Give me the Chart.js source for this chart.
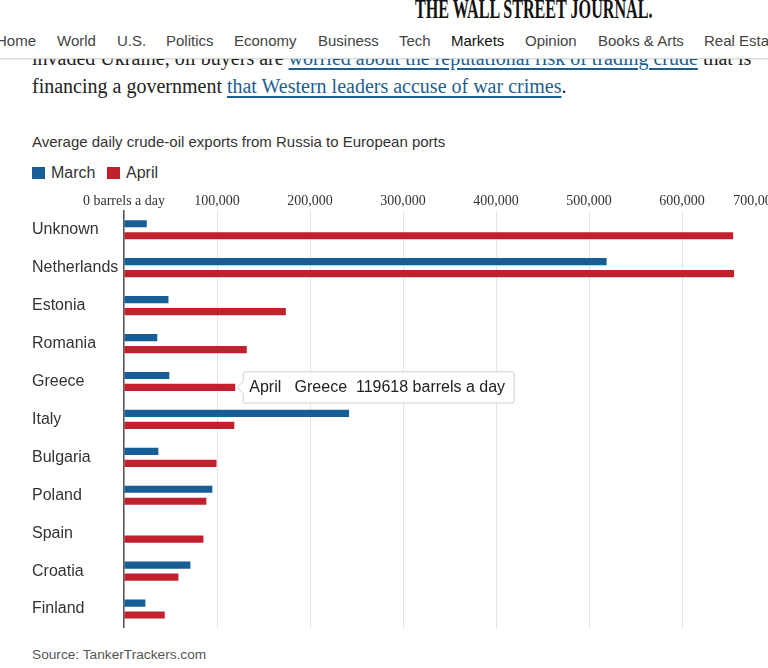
<!DOCTYPE html>
<html>
<head>
<meta charset="utf-8">
<script src="https://cdn.jsdelivr.net/npm/chart.js@4/dist/chart.umd.min.js"></script>
<style>
  body { margin: 0; width: 768px; height: 668px; overflow: hidden; background: #fff; position: relative; font-family: Arial, "Liberation Sans", sans-serif; }
  .nav { position: absolute; left: 0; top: 0; width: 768px; height: 58px; background: #fff; border-bottom: 1px solid #d8d8d8; box-shadow: 0 1px 2px rgba(0,0,0,0.08); z-index: 2; }
  .logo { position: absolute; left: 415px; top: -5px; font: bold 28px "Liberation Serif", serif; line-height: 28px; color: #111; white-space: nowrap; transform: scaleX(0.575); transform-origin: 0 0; }
  .nav span { position: absolute; top: 32px; font-size: 15px; line-height: 18px; color: #444; white-space: nowrap; }
  .nav span.on { color: #111; }
  .article { position: absolute; left: 32px; top: 44px; font: 20px "Liberation Serif", serif; line-height: 28px; color: #222; white-space: nowrap; }
  .article a { color: #1d5f8f; text-decoration: underline; text-underline-offset: 3px; }
  .title { position: absolute; left: 32px; top: 133px; font-size: 15px; line-height: 18px; color: #333; white-space: nowrap; }
  .legend { position: absolute; top: 163px; font-size: 16px; line-height: 19px; color: #333; }
  .legend i { position: absolute; top: 4px; width: 13px; height: 12px; }
  .legend b { position: absolute; top: 0; font-weight: normal; }
  .source { position: absolute; left: 32px; top: 647px; font-size: 13.7px; line-height: 16px; color: #555; white-space: nowrap; }
  #chart { position: absolute; left: 0; top: 192px; }
</style>
</head>
<body>
<div class="nav">
  <div class="logo">THE WALL STREET JOURNAL.</div>
  <span style="left:-4px">Home</span>
  <span style="left:57px">World</span>
  <span style="left:117px">U.S.</span>
  <span style="left:166px">Politics</span>
  <span style="left:234px">Economy</span>
  <span style="left:318px">Business</span>
  <span style="left:399px">Tech</span>
  <span class="on" style="left:451px">Markets</span>
  <span style="left:525px">Opinion</span>
  <span style="left:598px">Books &amp; Arts</span>
  <span style="left:704px">Real Estate</span>
</div>
<div class="article">
  invaded Ukraine, oil buyers are <a>worried about the reputational risk of trading crude</a> that is<br>
  financing a government <a>that Western leaders accuse of war crimes</a>.
</div>
<div class="title">Average daily crude-oil exports from Russia to European ports</div>
<div class="legend" id="legend"></div>
<canvas id="chart" width="775" height="436"></canvas>
<div class="source">Source: TankerTrackers.com</div>
<script>
const categories = ['Unknown', 'Netherlands', 'Estonia', 'Romania', 'Greece', 'Italy', 'Bulgaria', 'Poland', 'Spain', 'Croatia', 'Finland'];
const seriesNames = ['March', 'April'];
const seriesColors = ['#175d96', '#c1202d'];
const marchValues = [24500, 519000, 47800, 35800, 48700, 242000, 37000, 95000, 0, 71400, 23000];
const aprilValues = [655000, 656000, 174000, 132000, 119618, 118600, 99500, 88600, 85400, 58500, 43800];
const tickLabels = ['0 barrels a day', '100,000', '200,000', '300,000', '400,000', '500,000', '600,000', '700,000'];

// legend squares above the chart, built from the series names
const legendEl = document.getElementById('legend');
const legendLeft = [32, 107];
seriesNames.forEach((name, i) => {
    legendEl.innerHTML += '<i style="left:' + legendLeft[i] + 'px;background:' + seriesColors[i] + '"></i>' +
        '<b style="left:' + (legendLeft[i] + 19) + 'px">' + name + '</b>';
});

const ctx = document.getElementById('chart').getContext('2d');
const chart = new Chart(ctx, {
    type: 'bar',
    data: {
        labels: categories,
        datasets: [
            { label: seriesNames[0], data: marchValues, backgroundColor: seriesColors[0], hoverBackgroundColor: seriesColors[0] },
            { label: seriesNames[1], data: aprilValues, backgroundColor: seriesColors[1], hoverBackgroundColor: seriesColors[1] },
        ],
    },
    options: {
        indexAxis: 'y',
        responsive: false,
        animation: false,
        events: [],
        categoryPercentage: 0.632,
        barPercentage: 0.6,
        layout: { padding: { left: 32, right: 0, top: 0, bottom: 0 } },
        plugins: {
            legend: { display: false },
            tooltip: {
                enabled: true,
                xAlign: 'left',
                yAlign: 'center',
                backgroundColor: '#fff',
                borderColor: '#cfcfcf',
                borderWidth: 1,
                cornerRadius: 2,
                caretSize: 6,
                caretPadding: 2,
                displayColors: false,
                padding: { top: 6, bottom: 6, left: 6, right: 9 },
                bodyColor: '#222',
                bodyFont: { family: 'Arial, "Liberation Sans", sans-serif', size: 16 },
                callbacks: {
                    title: () => '',
                    label: (c) => c.dataset.label + '   ' + c.label + '  ' + c.raw + ' barrels a day',
                },
            },
        },
        scales: {
            x: {
                position: 'top',
                min: 0,
                max: 700000,
                border: { display: false },
                grid: { color: '#e4e4e4', drawTicks: false },
                ticks: {
                    stepSize: 100000,
                    autoSkip: false,
                    padding: 1,
                    color: '#333',
                    font: { family: '"Liberation Serif", serif', size: 14 },
                    maxRotation: 0,
                    // last label sits on the page edge, padded so it reads like the original
                    callback: (v, i) => i === tickLabels.length - 1 ? tickLabels[i] + '\u2003\u2003\u2002\u2009' : tickLabels[i],
                },
                afterFit: (scale) => { scale.paddingLeft = 0; scale.paddingRight = 0; },
            },
            y: {
                grid: { display: false },
                border: { display: true, color: '#555', width: 1.5 },
                ticks: {
                    crossAlign: 'far',
                    color: '#333',
                    font: { family: 'Arial, "Liberation Sans", sans-serif', size: 16 },
                },
                afterFit: (scale) => { scale.width = 92; scale.paddingTop = 0; scale.paddingBottom = 0; },
            },
        },
    },
});

// show the hover label on Greece / April as in the screenshot
chart.tooltip.setActiveElements([{ datasetIndex: 1, index: 4 }], { x: 0, y: 0 });
chart.update();
</script>
</body>
</html>
